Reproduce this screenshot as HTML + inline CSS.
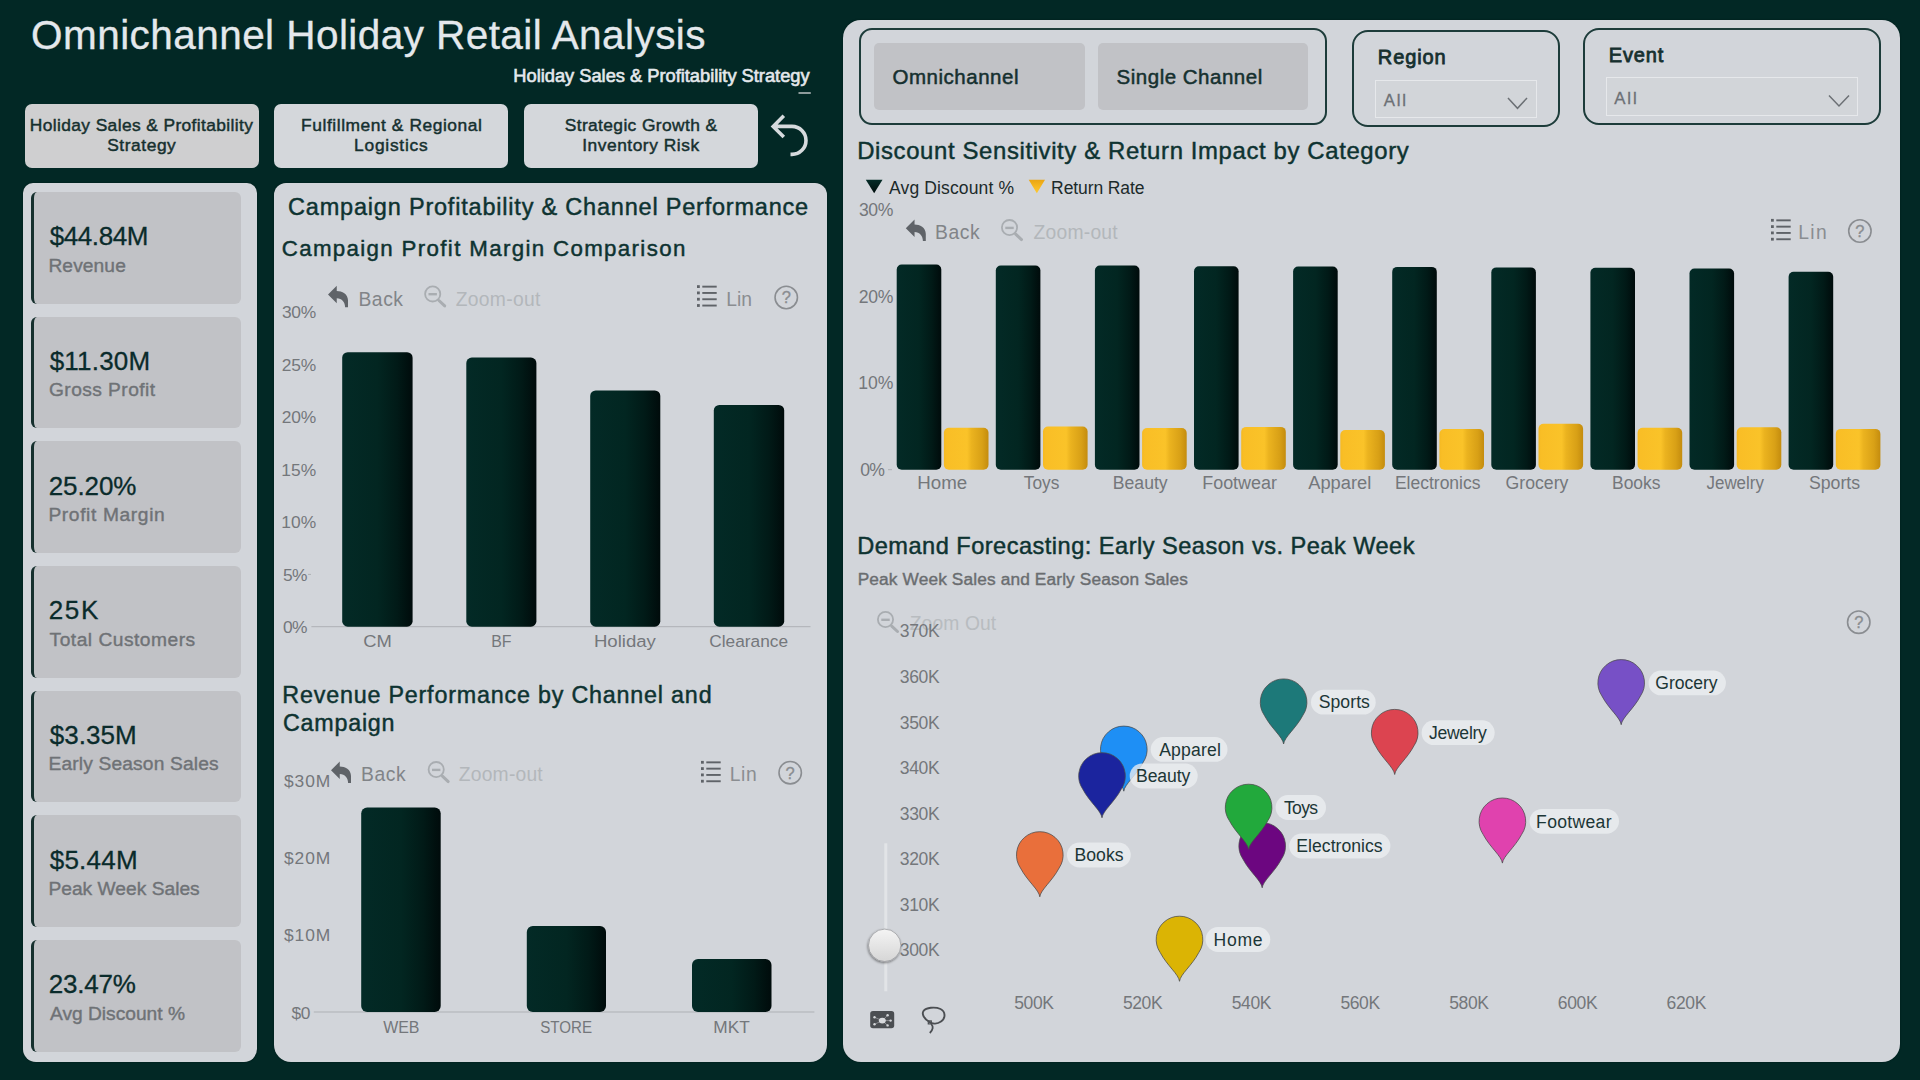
<!DOCTYPE html>
<html><head><meta charset="utf-8"><title>Omnichannel Holiday Retail Analysis</title>
<style>
html,body{margin:0;padding:0;}
body{width:1920px;height:1080px;background:#022825;position:relative;overflow:hidden;font-family:'Liberation Sans', Arial, sans-serif;}
svg text{font-family:'Liberation Sans', Arial, sans-serif;}
</style></head>
<body>
<div style="position:absolute;left:23px;top:183px;width:234px;height:879px;background:#d2d5da;border-radius:10px 10px 13px 13px;box-shadow:0 0 2px rgba(0,0,0,.35)"></div>
<div style="position:absolute;left:274px;top:182.5px;width:552.5px;height:879.5px;background:#d2d5da;border-radius:12px 12px 17px 17px;box-shadow:0 0 2px rgba(0,0,0,.35)"></div>
<div style="position:absolute;left:843px;top:19.5px;width:1056.5px;height:1042.5px;background:#d2d5da;border-radius:18px;box-shadow:0 0 2px rgba(0,0,0,.35)"></div>
<div style="position:absolute;left:25px;top:104px;width:234px;height:63.5px;background:#cfcfd0;border-radius:7px"></div>
<div style="position:absolute;left:274px;top:104px;width:233.6px;height:63.5px;background:#d4d7db;border-radius:7px"></div>
<div style="position:absolute;left:524.4px;top:104px;width:233.4px;height:63.5px;background:#d4d7db;border-radius:7px"></div>
<div style="position:absolute;left:31px;top:192.0px;width:207px;height:111.5px;background:#c1c2c6;border-left:3.2px solid #16302e;border-radius:6px"></div>
<div style="position:absolute;left:31px;top:316.7px;width:207px;height:111.5px;background:#c1c2c6;border-left:3.2px solid #16302e;border-radius:6px"></div>
<div style="position:absolute;left:31px;top:441.3px;width:207px;height:111.5px;background:#c1c2c6;border-left:3.2px solid #16302e;border-radius:6px"></div>
<div style="position:absolute;left:31px;top:566.0px;width:207px;height:111.5px;background:#c1c2c6;border-left:3.2px solid #16302e;border-radius:6px"></div>
<div style="position:absolute;left:31px;top:690.7px;width:207px;height:111.5px;background:#c1c2c6;border-left:3.2px solid #16302e;border-radius:6px"></div>
<div style="position:absolute;left:31px;top:815.4px;width:207px;height:111.5px;background:#c1c2c6;border-left:3.2px solid #16302e;border-radius:6px"></div>
<div style="position:absolute;left:31px;top:940.0px;width:207px;height:111.5px;background:#c1c2c6;border-left:3.2px solid #16302e;border-radius:6px"></div>
<div style="position:absolute;left:858.6px;top:27.6px;width:464.1px;height:93.7px;border:2px solid #1d3c3a;border-radius:13px"></div>
<div style="position:absolute;left:873.9px;top:42.8px;width:210.8px;height:67px;background:#c1c2c6;border-radius:5px"></div>
<div style="position:absolute;left:1098px;top:42.8px;width:210.3px;height:67px;background:#c1c2c6;border-radius:5px"></div>
<div style="position:absolute;left:1351.9px;top:29.7px;width:204.1px;height:93.8px;border:2px solid #1d3c3a;border-radius:16px"></div>
<div style="position:absolute;left:1582.7px;top:27.7px;width:294.1px;height:93.4px;border:2px solid #1d3c3a;border-radius:16px"></div>
<div style="position:absolute;left:1375.4px;top:80px;width:159.5px;height:35.75px;border:1px solid #e6e8eb;background:#d2d5d9"></div>
<div style="position:absolute;left:1606.3px;top:77.3px;width:249.5px;height:36.3px;border:1px solid #e6e8eb;background:#d2d5d9"></div>
<svg width="1920" height="1080" viewBox="0 0 1920 1080" style="position:absolute;left:0;top:0">
<defs>
<linearGradient id="gd" x1="0" x2="1" y1="0" y2="0">
 <stop offset="0" stop-color="#032a26"/><stop offset="0.5" stop-color="#022621"/><stop offset="0.78" stop-color="#011a17"/><stop offset="1" stop-color="#000b0b"/>
</linearGradient>
<linearGradient id="gy" x1="0" x2="1" y1="0" y2="0">
 <stop offset="0" stop-color="#f5b922"/><stop offset="0.06" stop-color="#f9be26"/><stop offset="0.52" stop-color="#fac329"/><stop offset="0.62" stop-color="#ebb31f"/><stop offset="0.86" stop-color="#d8a016"/><stop offset="1" stop-color="#c48c0e"/>
</linearGradient>
<linearGradient id="gtri" x1="0" x2="0" y1="0" y2="1"><stop offset="0" stop-color="#042c28"/><stop offset="1" stop-color="#000d0c"/></linearGradient>
<linearGradient id="gytri" x1="0" x2="0" y1="0" y2="1"><stop offset="0" stop-color="#e9a514"/><stop offset="0.5" stop-color="#f7b820"/><stop offset="1" stop-color="#fdc934"/></linearGradient>
<filter id="kshadow" x="-50%" y="-50%" width="200%" height="200%"><feDropShadow dx="-0.5" dy="1.2" stdDeviation="1.2" flood-color="#000" flood-opacity="0.45"/></filter>
<linearGradient id="gknob" x1="0" x2="0" y1="0" y2="1"><stop offset="0" stop-color="#f4f4f4"/><stop offset="1" stop-color="#d6d6d6"/></linearGradient>
</defs>
<text x="31.1" y="49.2" font-size="40.5" fill="#e4e8ec" textLength="674.4" lengthAdjust="spacing" stroke="#e4e8ec" stroke-width="0.3">Omnichannel Holiday Retail Analysis</text>
<text x="513.3" y="82.1" font-size="18.3" fill="#e4e8ec" textLength="296.3" lengthAdjust="spacing" stroke="#e4e8ec" stroke-width="0.6">Holiday Sales &amp; Profitability Strategy</text>
<rect x="798.5" y="92" width="12.3" height="2" fill="#8d9b9b"/>
<text x="29.8" y="131.3" font-size="17.4" fill="#16302f" textLength="223.2" lengthAdjust="spacing" stroke="#16302f" stroke-width="0.45">Holiday Sales &amp; Profitability</text>
<text x="107.2" y="151.3" font-size="17.4" fill="#16302f" textLength="68.6" lengthAdjust="spacing" stroke="#16302f" stroke-width="0.45">Strategy</text>
<text x="301.1" y="131.3" font-size="17.4" fill="#16302f" textLength="180.8" lengthAdjust="spacing" stroke="#16302f" stroke-width="0.45">Fulfillment &amp; Regional</text>
<text x="354.1" y="151.3" font-size="17.4" fill="#16302f" textLength="73.6" lengthAdjust="spacing" stroke="#16302f" stroke-width="0.45">Logistics</text>
<text x="564.7" y="131.3" font-size="17.4" fill="#16302f" textLength="152.3" lengthAdjust="spacing" stroke="#16302f" stroke-width="0.45">Strategic Growth &amp;</text>
<text x="582.2" y="151.3" font-size="17.4" fill="#16302f" textLength="116.9" lengthAdjust="spacing" stroke="#16302f" stroke-width="0.45">Inventory Risk</text>
<path d="M783.8,115.8 L773.2,126.4 L783.8,137 M773.2,126.4 H792 A14,14 0 0 1 792,154.4 H790.5" fill="none" stroke="#d6dadd" stroke-width="3.6"/>
<text x="49.7" y="245.4" font-size="26" fill="#0a2b2b" textLength="98.7" lengthAdjust="spacing" stroke="#0a2b2b" stroke-width="0.3">$44.84M</text>
<text x="48.4" y="271.7" font-size="19.2" fill="#6f7276" textLength="77.4" lengthAdjust="spacing" stroke="#6f7276" stroke-width="0.4">Revenue</text>
<text x="49.7" y="370.1" font-size="26" fill="#0a2b2b" textLength="100.4" lengthAdjust="spacing" stroke="#0a2b2b" stroke-width="0.3">$11.30M</text>
<text x="49.0" y="396.4" font-size="19.2" fill="#6f7276" textLength="106.1" lengthAdjust="spacing" stroke="#6f7276" stroke-width="0.4">Gross Profit</text>
<text x="48.7" y="494.7" font-size="26" fill="#0a2b2b" textLength="87.7" lengthAdjust="spacing" stroke="#0a2b2b" stroke-width="0.3">25.20%</text>
<text x="48.4" y="521.0" font-size="19.2" fill="#6f7276" textLength="116.3" lengthAdjust="spacing" stroke="#6f7276" stroke-width="0.4">Profit Margin</text>
<text x="48.7" y="619.4" font-size="26" fill="#0a2b2b" textLength="49.6" lengthAdjust="spacing" stroke="#0a2b2b" stroke-width="0.3">25K</text>
<text x="49.6" y="645.7" font-size="19.2" fill="#6f7276" textLength="145.5" lengthAdjust="spacing" stroke="#6f7276" stroke-width="0.4">Total Customers</text>
<text x="49.7" y="744.1" font-size="26" fill="#0a2b2b" textLength="86.9" lengthAdjust="spacing" stroke="#0a2b2b" stroke-width="0.3">$3.35M</text>
<text x="48.4" y="770.4" font-size="19.2" fill="#6f7276" textLength="170.3" lengthAdjust="spacing" stroke="#6f7276" stroke-width="0.4">Early Season Sales</text>
<text x="49.7" y="868.8" font-size="26" fill="#0a2b2b" textLength="87.9" lengthAdjust="spacing" stroke="#0a2b2b" stroke-width="0.3">$5.44M</text>
<text x="48.4" y="895.1" font-size="19.2" fill="#6f7276" textLength="151.3" lengthAdjust="spacing" stroke="#6f7276" stroke-width="0.4">Peak Week Sales</text>
<text x="48.7" y="993.4" font-size="26" fill="#0a2b2b" textLength="87.2" lengthAdjust="spacing" stroke="#0a2b2b" stroke-width="0.3">23.47%</text>
<text x="50.0" y="1019.7" font-size="19.2" fill="#6f7276" textLength="135.0" lengthAdjust="spacing" stroke="#6f7276" stroke-width="0.4">Avg Discount %</text>
<text x="288.1" y="214.6" font-size="23.5" fill="#0e3331" textLength="520.1" lengthAdjust="spacing" stroke="#0e3331" stroke-width="0.45">Campaign Profitability &amp; Channel Performance</text>
<text x="281.7" y="255.5" font-size="22.3" fill="#0e3331" textLength="403.6" lengthAdjust="spacing" stroke="#0e3331" stroke-width="0.45">Campaign Profit Margin Comparison</text>
<text x="281.9" y="318.3" font-size="17.4" fill="#74777b" textLength="34.4" lengthAdjust="spacing">30%</text>
<text x="281.7" y="370.7" font-size="17.4" fill="#74777b" textLength="34.6" lengthAdjust="spacing">25%</text>
<text x="281.7" y="423.2" font-size="17.4" fill="#74777b" textLength="34.6" lengthAdjust="spacing">20%</text>
<text x="281.3" y="475.6" font-size="17.4" fill="#74777b" textLength="35.0" lengthAdjust="spacing">15%</text>
<text x="281.3" y="528.0" font-size="17.4" fill="#74777b" textLength="35.0" lengthAdjust="spacing">10%</text>
<text x="282.9" y="580.5" font-size="17.4" fill="#74777b" textLength="24.5" lengthAdjust="spacing">5%</text>
<text x="282.9" y="632.9" font-size="17.4" fill="#74777b" textLength="24.5" lengthAdjust="spacing">0%</text>
<line x1="311.4" y1="626.7" x2="810.5" y2="626.7" stroke="#aeb1b5" stroke-width="1"/>
<line x1="308" y1="574.4" x2="311" y2="574.4" stroke="#aeb1b5" stroke-width="1"/>
<rect x="342.2" y="352.2" width="70.4" height="274.5" rx="5.5" fill="url(#gd)"/>
<text x="363.3" y="647.0" font-size="17.4" fill="#74777b" textLength="28.6" lengthAdjust="spacingAndGlyphs">CM</text>
<rect x="466.3" y="357.6" width="70.1" height="269.1" rx="5.5" fill="url(#gd)"/>
<text x="491.2" y="647.0" font-size="17.4" fill="#74777b" textLength="20.3" lengthAdjust="spacingAndGlyphs">BF</text>
<rect x="590.2" y="390.5" width="70.1" height="236.2" rx="5.5" fill="url(#gd)"/>
<text x="593.9" y="647.0" font-size="17.4" fill="#74777b" textLength="62.0" lengthAdjust="spacingAndGlyphs">Holiday</text>
<rect x="713.8" y="405.0" width="70.4" height="221.7" rx="5.5" fill="url(#gd)"/>
<text x="709.3" y="647.0" font-size="17.4" fill="#74777b" textLength="78.7" lengthAdjust="spacingAndGlyphs">Clearance</text>
<path transform="translate(328,285.8) scale(1.0)" d="M0,8.75 L8.75,0 V5.1 C14,5.1 20,8 20,14.5 V21.5 L17.1,21.5 C17.1,16.5 14,12.4 8.75,12.4 V17.5 Z" fill="#5f6368"/>
<text x="358.4" y="306.0" font-size="19.3" fill="#818488" textLength="44.6" lengthAdjust="spacing">Back</text>
<circle cx="432.7" cy="293.90000000000003" r="7.6" fill="none" stroke="#a9adb1" stroke-width="1.8"/>
<line x1="428.5" y1="294.20000000000005" x2="436.9" y2="294.20000000000005" stroke="#a9adb1" stroke-width="2.4"/>
<line x1="438.9" y1="300.50000000000006" x2="444.7" y2="305.90000000000003" stroke="#a9adb1" stroke-width="3" stroke-linecap="round"/>
<text x="455.7" y="306.0" font-size="19.3" fill="#b3b7bb" textLength="84.7" lengthAdjust="spacing">Zoom-out</text>
<rect x="697" y="285.2" width="2.8" height="2.8" fill="#5f6368"/>
<rect x="702.3" y="285.7" width="14.4" height="1.9" fill="#5f6368"/>
<rect x="697" y="291.5" width="2.8" height="2.8" fill="#5f6368"/>
<rect x="702.3" y="292.0" width="14.4" height="1.9" fill="#5f6368"/>
<rect x="697" y="297.8" width="2.8" height="2.8" fill="#5f6368"/>
<rect x="702.3" y="298.3" width="14.4" height="1.9" fill="#5f6368"/>
<rect x="697" y="304.1" width="2.8" height="2.8" fill="#5f6368"/>
<rect x="702.3" y="304.6" width="14.4" height="1.9" fill="#5f6368"/>
<text x="726.2" y="306.0" font-size="19.3" fill="#8a8d91" textLength="25.9" lengthAdjust="spacing">Lin</text>
<circle cx="786.25" cy="297.5" r="11.2" fill="none" stroke="#8a8d91" stroke-width="1.6"/>
<text x="786.25" y="303.4" font-size="16.5" fill="#8a8d91" stroke="#8a8d91" stroke-width="0.3" text-anchor="middle">?</text>
<text x="282.3" y="703.2" font-size="23.3" fill="#0e3331" textLength="429.3" lengthAdjust="spacing" stroke="#0e3331" stroke-width="0.45">Revenue Performance by Channel and</text>
<text x="283.0" y="731.3" font-size="23.3" fill="#0e3331" textLength="111.5" lengthAdjust="spacing" stroke="#0e3331" stroke-width="0.45">Campaign</text>
<text x="284.0" y="787.4" font-size="17.4" fill="#74777b" textLength="46.3" lengthAdjust="spacing">$30M</text>
<text x="284.0" y="863.8" font-size="17.4" fill="#74777b" textLength="46.3" lengthAdjust="spacing">$20M</text>
<text x="284.0" y="941.2" font-size="17.4" fill="#74777b" textLength="46.3" lengthAdjust="spacing">$10M</text>
<text x="291.5" y="1019.0" font-size="17.4" fill="#74777b" textLength="19.0" lengthAdjust="spacing">$0</text>
<line x1="313.8" y1="1012" x2="814.4" y2="1012" stroke="#aeb1b5" stroke-width="1"/>
<rect x="361.2" y="807.5" width="79.5" height="204.5" rx="6" fill="url(#gd)"/>
<text x="383.2" y="1032.8" font-size="17.4" fill="#74777b" textLength="36.3" lengthAdjust="spacingAndGlyphs">WEB</text>
<rect x="526.8" y="925.9" width="79.2" height="86.1" rx="6" fill="url(#gd)"/>
<text x="540.2" y="1032.8" font-size="17.4" fill="#74777b" textLength="51.9" lengthAdjust="spacingAndGlyphs">STORE</text>
<rect x="692.0" y="959.1" width="79.5" height="52.9" rx="6" fill="url(#gd)"/>
<text x="713.3" y="1032.8" font-size="17.4" fill="#74777b" textLength="36.5" lengthAdjust="spacingAndGlyphs">MKT</text>
<path transform="translate(331,761.5) scale(1.0)" d="M0,8.75 L8.75,0 V5.1 C14,5.1 20,8 20,14.5 V21.5 L17.1,21.5 C17.1,16.5 14,12.4 8.75,12.4 V17.5 Z" fill="#5f6368"/>
<text x="361.1" y="781.2" font-size="19.3" fill="#818488" textLength="44.6" lengthAdjust="spacing">Back</text>
<circle cx="436.2" cy="769.6" r="7.6" fill="none" stroke="#a9adb1" stroke-width="1.8"/>
<line x1="432.0" y1="769.9" x2="440.4" y2="769.9" stroke="#a9adb1" stroke-width="2.4"/>
<line x1="442.4" y1="776.2" x2="448.2" y2="781.6" stroke="#a9adb1" stroke-width="3" stroke-linecap="round"/>
<text x="458.8" y="781.2" font-size="19.3" fill="#b3b7bb" textLength="83.9" lengthAdjust="spacing">Zoom-out</text>
<rect x="701" y="760.9" width="2.8" height="2.8" fill="#5f6368"/>
<rect x="706.3" y="761.4" width="14.4" height="1.9" fill="#5f6368"/>
<rect x="701" y="767.2" width="2.8" height="2.8" fill="#5f6368"/>
<rect x="706.3" y="767.7" width="14.4" height="1.9" fill="#5f6368"/>
<rect x="701" y="773.5" width="2.8" height="2.8" fill="#5f6368"/>
<rect x="706.3" y="774.0" width="14.4" height="1.9" fill="#5f6368"/>
<rect x="701" y="779.8" width="2.8" height="2.8" fill="#5f6368"/>
<rect x="706.3" y="780.3" width="14.4" height="1.9" fill="#5f6368"/>
<text x="729.7" y="781.2" font-size="19.3" fill="#8a8d91" textLength="27.0" lengthAdjust="spacing">Lin</text>
<circle cx="790.2" cy="772.7" r="11.2" fill="none" stroke="#8a8d91" stroke-width="1.6"/>
<text x="790.2" y="778.6" font-size="16.5" fill="#8a8d91" stroke="#8a8d91" stroke-width="0.3" text-anchor="middle">?</text>
<text x="892.4" y="84.4" font-size="20.5" fill="#16302f" textLength="126.1" lengthAdjust="spacing" stroke="#16302f" stroke-width="0.5">Omnichannel</text>
<text x="1116.6" y="84.4" font-size="20.5" fill="#16302f" textLength="145.6" lengthAdjust="spacing" stroke="#16302f" stroke-width="0.5">Single Channel</text>
<text x="1377.8" y="64.0" font-size="20" fill="#16302f" textLength="67.9" lengthAdjust="spacing" stroke="#16302f" stroke-width="0.8">Region</text>
<text x="1608.8" y="61.9" font-size="20" fill="#16302f" textLength="54.4" lengthAdjust="spacing" stroke="#16302f" stroke-width="0.8">Event</text>
<text x="1383.7" y="106.0" font-size="16.8" fill="#6c7075" textLength="22.4" lengthAdjust="spacing" stroke="#6c7075" stroke-width="0.3">All</text>
<text x="1614.3" y="103.5" font-size="16.8" fill="#6c7075" textLength="22.4" lengthAdjust="spacing" stroke="#6c7075" stroke-width="0.3">All</text>
<polyline points="1508,98 1517.5,108.3 1527,98" fill="none" stroke="#6c7075" stroke-width="1.5"/>
<polyline points="1829,95.6 1839,106 1849,95.6" fill="none" stroke="#6c7075" stroke-width="1.5"/>
<text x="857.2" y="158.8" font-size="23.9" fill="#0e3331" textLength="551.5" lengthAdjust="spacing" stroke="#0e3331" stroke-width="0.45">Discount Sensitivity &amp; Return Impact by Category</text>
<polygon points="865.8,179.8 882.5,179.8 874.15,193.3" fill="url(#gtri)"/>
<text x="889.0" y="193.8" font-size="17.5" fill="#1c2a2a" textLength="125.0" lengthAdjust="spacing">Avg Discount %</text>
<polygon points="1028.7,179.8 1045,179.8 1036.85,193.3" fill="url(#gytri)"/>
<text x="1051.1" y="193.8" font-size="17.5" fill="#1c2a2a" textLength="93.4" lengthAdjust="spacing">Return Rate</text>
<text x="858.9" y="216.2" font-size="17.6" fill="#74777b" textLength="34.4" lengthAdjust="spacing">30%</text>
<text x="858.7" y="302.8" font-size="17.6" fill="#74777b" textLength="34.6" lengthAdjust="spacing">20%</text>
<text x="858.3" y="389.4" font-size="17.6" fill="#74777b" textLength="35.1" lengthAdjust="spacing">10%</text>
<text x="860.3" y="476.0" font-size="17.6" fill="#74777b" textLength="24.6" lengthAdjust="spacing">0%</text>
<line x1="888" y1="469.7" x2="892" y2="469.7" stroke="#aeb1b5" stroke-width="1"/>
<rect x="896.7" y="264.6" width="44.6" height="205.1" rx="5" fill="url(#gd)"/>
<rect x="943.9" y="427.7" width="44.6" height="42.0" rx="5" fill="url(#gy)"/>
<text x="917.3" y="489.0" font-size="17.6" fill="#74777b" textLength="50.0" lengthAdjust="spacingAndGlyphs">Home</text>
<rect x="995.8" y="265.5" width="44.6" height="204.2" rx="5" fill="url(#gd)"/>
<rect x="1043.0" y="426.6" width="44.6" height="43.1" rx="5" fill="url(#gy)"/>
<text x="1023.8" y="489.0" font-size="17.6" fill="#74777b" textLength="35.6" lengthAdjust="spacingAndGlyphs">Toys</text>
<rect x="1094.9" y="265.5" width="44.6" height="204.2" rx="5" fill="url(#gd)"/>
<rect x="1142.1" y="428.0" width="44.6" height="41.7" rx="5" fill="url(#gy)"/>
<text x="1112.8" y="489.0" font-size="17.6" fill="#74777b" textLength="54.9" lengthAdjust="spacingAndGlyphs">Beauty</text>
<rect x="1194.0" y="266.3" width="44.6" height="203.4" rx="5" fill="url(#gd)"/>
<rect x="1241.2" y="426.9" width="44.6" height="42.8" rx="5" fill="url(#gy)"/>
<text x="1202.2" y="489.0" font-size="17.6" fill="#74777b" textLength="74.8" lengthAdjust="spacingAndGlyphs">Footwear</text>
<rect x="1293.1" y="266.6" width="44.6" height="203.1" rx="5" fill="url(#gd)"/>
<rect x="1340.3" y="430.0" width="44.6" height="39.7" rx="5" fill="url(#gy)"/>
<text x="1308.2" y="489.0" font-size="17.6" fill="#74777b" textLength="63.1" lengthAdjust="spacingAndGlyphs">Apparel</text>
<rect x="1392.2" y="266.9" width="44.6" height="202.8" rx="5" fill="url(#gd)"/>
<rect x="1439.4" y="429.1" width="44.6" height="40.6" rx="5" fill="url(#gy)"/>
<text x="1394.9" y="489.0" font-size="17.6" fill="#74777b" textLength="85.6" lengthAdjust="spacingAndGlyphs">Electronics</text>
<rect x="1491.3" y="267.4" width="44.6" height="202.3" rx="5" fill="url(#gd)"/>
<rect x="1538.5" y="423.8" width="44.6" height="45.9" rx="5" fill="url(#gy)"/>
<text x="1505.6" y="489.0" font-size="17.6" fill="#74777b" textLength="62.8" lengthAdjust="spacingAndGlyphs">Grocery</text>
<rect x="1590.4" y="267.7" width="44.6" height="202.0" rx="5" fill="url(#gd)"/>
<rect x="1637.6" y="427.7" width="44.6" height="42.0" rx="5" fill="url(#gy)"/>
<text x="1612.0" y="489.0" font-size="17.6" fill="#74777b" textLength="48.5" lengthAdjust="spacingAndGlyphs">Books</text>
<rect x="1689.5" y="268.6" width="44.6" height="201.1" rx="5" fill="url(#gd)"/>
<rect x="1736.7" y="427.2" width="44.6" height="42.5" rx="5" fill="url(#gy)"/>
<text x="1706.5" y="489.0" font-size="17.6" fill="#74777b" textLength="57.4" lengthAdjust="spacingAndGlyphs">Jewelry</text>
<rect x="1788.6" y="271.7" width="44.6" height="198.0" rx="5" fill="url(#gd)"/>
<rect x="1835.8" y="428.9" width="44.6" height="40.8" rx="5" fill="url(#gy)"/>
<text x="1808.9" y="489.0" font-size="17.6" fill="#74777b" textLength="51.2" lengthAdjust="spacingAndGlyphs">Sports</text>
<path transform="translate(905.8,219.5) scale(1.0)" d="M0,8.75 L8.75,0 V5.1 C14,5.1 20,8 20,14.5 V21.5 L17.1,21.5 C17.1,16.5 14,12.4 8.75,12.4 V17.5 Z" fill="#5f6368"/>
<text x="935.1" y="238.7" font-size="19.3" fill="#818488" textLength="44.6" lengthAdjust="spacing">Back</text>
<circle cx="1009.5" cy="227.6" r="7.6" fill="none" stroke="#a9adb1" stroke-width="1.8"/>
<line x1="1005.3" y1="227.9" x2="1013.7" y2="227.9" stroke="#a9adb1" stroke-width="2.4"/>
<line x1="1015.7" y1="234.2" x2="1021.5" y2="239.6" stroke="#a9adb1" stroke-width="3" stroke-linecap="round"/>
<text x="1033.4" y="238.7" font-size="19.3" fill="#b3b7bb" textLength="84.3" lengthAdjust="spacing">Zoom-out</text>
<rect x="1771" y="218.9" width="2.8" height="2.8" fill="#5f6368"/>
<rect x="1776.3" y="219.4" width="14.4" height="1.9" fill="#5f6368"/>
<rect x="1771" y="225.2" width="2.8" height="2.8" fill="#5f6368"/>
<rect x="1776.3" y="225.7" width="14.4" height="1.9" fill="#5f6368"/>
<rect x="1771" y="231.5" width="2.8" height="2.8" fill="#5f6368"/>
<rect x="1776.3" y="232.0" width="14.4" height="1.9" fill="#5f6368"/>
<rect x="1771" y="237.8" width="2.8" height="2.8" fill="#5f6368"/>
<rect x="1776.3" y="238.3" width="14.4" height="1.9" fill="#5f6368"/>
<text x="1798.2" y="238.7" font-size="19.3" fill="#8a8d91" textLength="28.5" lengthAdjust="spacing">Lin</text>
<circle cx="1859.9" cy="231" r="11.2" fill="none" stroke="#8a8d91" stroke-width="1.6"/>
<text x="1859.9" y="236.9" font-size="16.5" fill="#8a8d91" stroke="#8a8d91" stroke-width="0.3" text-anchor="middle">?</text>
<text x="857.2" y="554.3" font-size="23.6" fill="#0e3331" textLength="557.3" lengthAdjust="spacing" stroke="#0e3331" stroke-width="0.45">Demand Forecasting: Early Season vs. Peak Week</text>
<text x="857.7" y="584.7" font-size="17.3" fill="#6a6d70" textLength="330.2" lengthAdjust="spacing" stroke="#6a6d70" stroke-width="0.4">Peak Week Sales and Early Season Sales</text>
<circle cx="885.5" cy="619.5" r="7.6" fill="none" stroke="#a9adb1" stroke-width="1.8"/>
<line x1="881.3" y1="619.8" x2="889.7" y2="619.8" stroke="#a9adb1" stroke-width="2.4"/>
<line x1="891.7" y1="626.1" x2="897.5" y2="631.5" stroke="#a9adb1" stroke-width="3" stroke-linecap="round"/>
<text x="909.7" y="630.2" font-size="19.3" fill="#b8bcc0" textLength="86.5" lengthAdjust="spacing">Zoom Out</text>
<text x="899.8" y="637.3" font-size="17.5" fill="#74777b" textLength="39.8" lengthAdjust="spacing">370K</text>
<text x="899.8" y="682.9" font-size="17.5" fill="#74777b" textLength="39.8" lengthAdjust="spacing">360K</text>
<text x="899.8" y="728.5" font-size="17.5" fill="#74777b" textLength="39.8" lengthAdjust="spacing">350K</text>
<text x="899.8" y="774.1" font-size="17.5" fill="#74777b" textLength="39.8" lengthAdjust="spacing">340K</text>
<text x="899.8" y="819.7" font-size="17.5" fill="#74777b" textLength="39.8" lengthAdjust="spacing">330K</text>
<text x="899.8" y="865.2" font-size="17.5" fill="#74777b" textLength="39.8" lengthAdjust="spacing">320K</text>
<text x="899.8" y="910.8" font-size="17.5" fill="#74777b" textLength="39.8" lengthAdjust="spacing">310K</text>
<text x="899.8" y="956.4" font-size="17.5" fill="#74777b" textLength="39.8" lengthAdjust="spacing">300K</text>
<text x="1014.2" y="1008.5" font-size="17.5" fill="#74777b" textLength="39.7" lengthAdjust="spacing">500K</text>
<text x="1122.9" y="1008.5" font-size="17.5" fill="#74777b" textLength="39.7" lengthAdjust="spacing">520K</text>
<text x="1231.7" y="1008.5" font-size="17.5" fill="#74777b" textLength="39.7" lengthAdjust="spacing">540K</text>
<text x="1340.4" y="1008.5" font-size="17.5" fill="#74777b" textLength="39.7" lengthAdjust="spacing">560K</text>
<text x="1449.2" y="1008.5" font-size="17.5" fill="#74777b" textLength="39.7" lengthAdjust="spacing">580K</text>
<text x="1557.8" y="1008.5" font-size="17.5" fill="#74777b" textLength="39.9" lengthAdjust="spacing">600K</text>
<text x="1666.5" y="1008.5" font-size="17.5" fill="#74777b" textLength="39.9" lengthAdjust="spacing">620K</text>
<circle cx="1858.75" cy="622.2" r="11.2" fill="none" stroke="#8a8d91" stroke-width="1.6"/>
<text x="1858.75" y="628.1" font-size="16.5" fill="#8a8d91" stroke="#8a8d91" stroke-width="0.3" text-anchor="middle">?</text>
<rect x="884.3" y="843.3" width="3" height="148" fill="#e2e4e7"/>
<circle cx="884.7" cy="945.3" r="16.2" fill="url(#gknob)" stroke="#9a9c9f" stroke-width="0.8" filter="url(#kshadow)"/>
<rect x="870.2" y="1010.9" width="24" height="17.4" rx="2.8" fill="#4b4e52"/>
<line x1="882.3" y1="1020.6" x2="874.5" y2="1017.3" stroke="#8d9094" stroke-width="0.9"/>
<circle cx="874.5" cy="1017.3" r="1.2" fill="#d4d6d9"/>
<line x1="882.3" y1="1020.6" x2="874.5" y2="1024.3" stroke="#8d9094" stroke-width="0.9"/>
<circle cx="874.5" cy="1024.3" r="1.2" fill="#d4d6d9"/>
<line x1="882.3" y1="1020.6" x2="887.6" y2="1015.3" stroke="#8d9094" stroke-width="0.9"/>
<circle cx="887.6" cy="1015.3" r="1.2" fill="#d4d6d9"/>
<line x1="882.3" y1="1020.6" x2="890.6" y2="1020.6" stroke="#8d9094" stroke-width="0.9"/>
<circle cx="890.6" cy="1020.6" r="1.2" fill="#d4d6d9"/>
<line x1="882.3" y1="1020.6" x2="887.6" y2="1025.4" stroke="#8d9094" stroke-width="0.9"/>
<circle cx="887.6" cy="1025.4" r="1.2" fill="#d4d6d9"/>
<ellipse cx="882.3" cy="1020.6" rx="3.5" ry="2.9" fill="#d8dadd"/>
<path d="M929.5,1022 C924,1019 921.5,1014 923.5,1011 C926,1007.5 935,1006.5 940.5,1009 C945.5,1011.5 946,1018 941,1021.5 C937.5,1024 932.5,1024.5 929.5,1022 Z" fill="none" stroke="#4b4e52" stroke-width="1.9"/>
<rect x="928.3" y="1020.9" width="3" height="3" fill="none" stroke="#4b4e52" stroke-width="1.2"/>
<path d="M931.2,1024 C933.6,1026.5 933.2,1029.8 929.8,1033" fill="none" stroke="#4b4e52" stroke-width="1.8"/>
<path d="M1104.46,762.39 A23.3,23.3 0 1 1 1143.14,762.39 C1136.37,775.35 1124.60,784.20 1123.80,791.20 C1123.00,784.20 1111.23,775.35 1104.46,762.39 Z" fill="#1e8ff5" stroke="#4a4a4a" stroke-opacity=".75" stroke-width="1"/>
<path d="M1082.66,788.99 A23.3,23.3 0 1 1 1121.34,788.99 C1114.57,801.95 1102.80,810.80 1102.00,817.80 C1101.20,810.80 1089.43,801.95 1082.66,788.99 Z" fill="#1b249e" stroke="#4a4a4a" stroke-opacity=".75" stroke-width="1"/>
<path d="M1242.86,858.99 A23.3,23.3 0 1 1 1281.54,858.99 C1274.77,871.95 1263.00,880.80 1262.20,887.80 C1261.40,880.80 1249.63,871.95 1242.86,858.99 Z" fill="#6c0680" stroke="#4a4a4a" stroke-opacity=".75" stroke-width="1"/>
<path d="M1229.26,820.49 A23.3,23.3 0 1 1 1267.94,820.49 C1261.17,833.45 1249.40,842.30 1248.60,849.30 C1247.80,842.30 1236.03,833.45 1229.26,820.49 Z" fill="#22a93c" stroke="#4a4a4a" stroke-opacity=".75" stroke-width="1"/>
<path d="M1020.46,867.99 A23.3,23.3 0 1 1 1059.14,867.99 C1052.37,880.95 1040.60,889.80 1039.80,896.80 C1039.00,889.80 1027.23,880.95 1020.46,867.99 Z" fill="#e96f3b" stroke="#4a4a4a" stroke-opacity=".75" stroke-width="1"/>
<path d="M1160.16,952.49 A23.3,23.3 0 1 1 1198.84,952.49 C1192.07,965.45 1180.30,974.30 1179.50,981.30 C1178.70,974.30 1166.93,965.45 1160.16,952.49 Z" fill="#dbb404" stroke="#4a4a4a" stroke-opacity=".75" stroke-width="1"/>
<path d="M1264.26,715.19 A23.3,23.3 0 1 1 1302.94,715.19 C1296.17,728.15 1284.40,737.00 1283.60,744.00 C1282.80,737.00 1271.03,728.15 1264.26,715.19 Z" fill="#1d7979" stroke="#4a4a4a" stroke-opacity=".75" stroke-width="1"/>
<path d="M1375.36,745.69 A23.3,23.3 0 1 1 1414.04,745.69 C1407.27,758.65 1395.50,767.50 1394.70,774.50 C1393.90,767.50 1382.13,758.65 1375.36,745.69 Z" fill="#dc4450" stroke="#4a4a4a" stroke-opacity=".75" stroke-width="1"/>
<path d="M1601.86,695.89 A23.3,23.3 0 1 1 1640.54,695.89 C1633.77,708.85 1622.00,717.70 1621.20,724.70 C1620.40,717.70 1608.63,708.85 1601.86,695.89 Z" fill="#7750c6" stroke="#4a4a4a" stroke-opacity=".75" stroke-width="1"/>
<path d="M1483.06,834.29 A23.3,23.3 0 1 1 1521.74,834.29 C1514.97,847.25 1503.20,856.10 1502.40,863.10 C1501.60,856.10 1489.83,847.25 1483.06,834.29 Z" fill="#e042ae" stroke="#4a4a4a" stroke-opacity=".75" stroke-width="1"/>
<rect x="1150.7" y="737.0" width="76.8" height="24.8" rx="12.4" fill="#eceef1" fill-opacity=".78"/>
<text x="1159.2" y="755.6" font-size="17.6" fill="#1c3636" textLength="61.6" lengthAdjust="spacing">Apparel</text>
<rect x="1129.7" y="763.6" width="68.0" height="24.8" rx="12.4" fill="#eceef1" fill-opacity=".78"/>
<text x="1136.1" y="782.2" font-size="17.6" fill="#1c3636" textLength="54.1" lengthAdjust="spacing">Beauty</text>
<rect x="1289.2" y="833.6" width="101.2" height="24.8" rx="12.4" fill="#eceef1" fill-opacity=".78"/>
<text x="1296.3" y="852.2" font-size="17.6" fill="#1c3636" textLength="86.3" lengthAdjust="spacing">Electronics</text>
<rect x="1275.6" y="795.1" width="50.4" height="24.8" rx="12.4" fill="#eceef1" fill-opacity=".78"/>
<text x="1284.0" y="813.7" font-size="17.6" fill="#1c3636" textLength="34.1" lengthAdjust="spacing">Toys</text>
<rect x="1067.0" y="842.6" width="63.8" height="24.8" rx="12.4" fill="#eceef1" fill-opacity=".78"/>
<text x="1074.4" y="861.2" font-size="17.6" fill="#1c3636" textLength="49.2" lengthAdjust="spacing">Books</text>
<rect x="1205.6" y="927.1" width="64.7" height="24.8" rx="12.4" fill="#eceef1" fill-opacity=".78"/>
<text x="1213.5" y="945.7" font-size="17.6" fill="#1c3636" textLength="49.1" lengthAdjust="spacing">Home</text>
<rect x="1311.0" y="689.8" width="64.7" height="24.8" rx="12.4" fill="#eceef1" fill-opacity=".78"/>
<text x="1318.7" y="708.4" font-size="17.6" fill="#1c3636" textLength="51.2" lengthAdjust="spacing">Sports</text>
<rect x="1421.6" y="720.3" width="73.1" height="24.8" rx="12.4" fill="#eceef1" fill-opacity=".78"/>
<text x="1428.9" y="738.9" font-size="17.6" fill="#1c3636" textLength="58.0" lengthAdjust="spacing">Jewelry</text>
<rect x="1648.6" y="670.5" width="77.3" height="24.8" rx="12.4" fill="#eceef1" fill-opacity=".78"/>
<text x="1655.3" y="689.1" font-size="17.6" fill="#1c3636" textLength="62.2" lengthAdjust="spacing">Grocery</text>
<rect x="1529.6" y="808.9" width="89.4" height="24.8" rx="12.4" fill="#eceef1" fill-opacity=".78"/>
<text x="1536.1" y="827.5" font-size="17.6" fill="#1c3636" textLength="75.4" lengthAdjust="spacing">Footwear</text>
</svg>
</body></html>
